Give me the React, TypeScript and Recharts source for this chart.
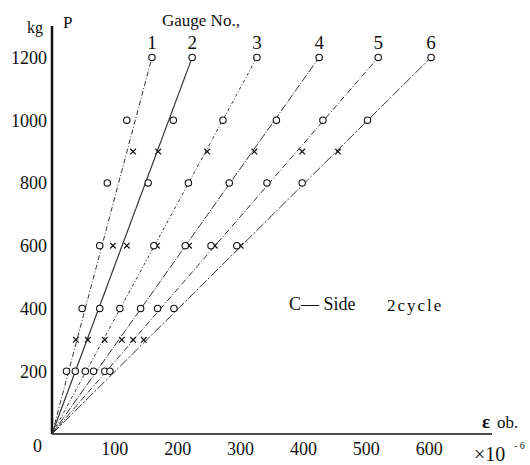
import React from "react";
import {
  ScatterChart,
  Scatter,
  XAxis,
  YAxis,
  ReferenceDot,
} from "recharts";

// loads (kg) where the circle and cross readings were taken
const circleLoads = [200, 400, 600, 800, 1000, 1200];
const crossLoads = [300, 600, 900];

// strain readings (x10^-6) per gauge; null = not visible
const circleStrains: (number | null)[][] = [
  [23, 48, 76, 88, 119, 159],
  [37, 76, null, 153, 193, 223],
  [53, 108, 162, 217, 272, 326],
  [66, 141, 212, 282, 357, 425],
  [84, 168, 253, 342, 431, 519],
  [92, 194, 294, 398, 502, 603],
];
const crossStrains: number[][] = [
  [38, 97, 129],
  [57, 119, 169],
  [84, 167, 247],
  [111, 218, 322],
  [129, 259, 398],
  [146, 300, 455],
];

const gaugeNames = ["1", "2", "3", "4", "5", "6"];
const lineDashes = ["5 2 1 2", "", "3 2 1 2", "8 1.5 1 1.5", "6 2 1 2", "10 2 2 2"];

const xTicks = [100, 200, 300, 400, 500, 600];
const yTicks = [0, 200, 400, 600, 800, 1000, 1200];

const FONT = "'Liberation Serif', 'DejaVu Serif', serif";
const INK = "#111";

const toPoints = (strains: (number | null)[], loads: number[]) =>
  strains
    .map((s, i) => (s === null ? null : { x: s, y: loads[i] }))
    .filter((p): p is { x: number; y: number } => p !== null);

const CircleMark = (props: any) => (
  <circle cx={props.cx} cy={props.cy} r={3.2} fill="#fff" stroke={INK} strokeWidth={1.1} />
);

const CrossMark = (props: any) => {
  const { cx, cy } = props;
  const s = 2.8;
  return (
    <g stroke={INK} strokeWidth={1.2}>
      <line x1={cx - s} y1={cy - s} x2={cx + s} y2={cy + s} />
      <line x1={cx - s} y1={cy + s} x2={cx + s} y2={cy - s} />
    </g>
  );
};

const YTick = (props: any) => {
  const { x, y, payload } = props;
  const zero = payload.value === 0;
  return (
    <text
      x={zero ? x - 5 : x}
      y={zero ? y + 12 : y}
      dy="0.355em"
      textAnchor="end"
      fontSize={18}
      fontFamily={FONT}
      fill={INK}
    >
      {payload.value}
    </text>
  );
};

export default function App() {
  return (
    <div style={{ position: "absolute", left: 0, top: 0, width: 530, height: 465, background: "#fff" }}>
      <ScatterChart
        width={530}
        height={465}
        margin={{ top: 26, right: 38, bottom: 0, left: 8 }}
      >
        <XAxis
          type="number"
          dataKey="x"
          domain={[0, 700]}
          ticks={xTicks}
          height={31}
          axisLine={{ stroke: INK, strokeWidth: 1.5 }}
          tickLine={false}
          tickSize={0}
          tickMargin={8}
          tick={{ fontSize: 18, fontFamily: FONT, fill: INK }}
          allowDataOverflow
        />
        <YAxis
          type="number"
          dataKey="y"
          domain={[0, 1300]}
          ticks={yTicks}
          width={44}
          axisLine={{ stroke: INK, strokeWidth: 2.5 }}
          tickLine={false}
          tickSize={0}
          tickMargin={5}
          tick={<YTick />}
          allowDataOverflow
        />
        {circleStrains.map((strains, g) => {
          const top = strains[strains.length - 1] as number;
          return (
            <Scatter
              key={`line-${g}`}
              data={[
                { x: 0, y: 0 },
                { x: top, y: circleLoads[circleLoads.length - 1] },
              ]}
              line={{ stroke: "#333", strokeWidth: g === 1 ? 1.2 : 1, strokeDasharray: lineDashes[g] }}
              shape={() => <g />}
              isAnimationActive={false}
            />
          );
        })}
        {crossStrains.map((strains, g) => (
          <Scatter
            key={`cross-${g}`}
            data={toPoints(strains, crossLoads)}
            shape={<CrossMark />}
            isAnimationActive={false}
          />
        ))}
        {circleStrains.map((strains, g) => (
          <Scatter
            key={`circle-${g}`}
            data={toPoints(strains, circleLoads)}
            shape={<CircleMark />}
            isAnimationActive={false}
          />
        ))}
        {circleStrains.map((strains, g) => (
          <ReferenceDot
            key={`name-${g}`}
            x={strains[strains.length - 1] as number}
            y={circleLoads[circleLoads.length - 1]}
            r={0}
            ifOverflow="visible"
            label={{
              value: gaugeNames[g],
              position: "top",
              offset: 8,
              fontSize: 19,
              fontFamily: FONT,
              fill: INK,
            }}
          />
        ))}
      </ScatterChart>

      {/* axis titles and notes */}
      <svg
        width={530}
        height={465}
        style={{ position: "absolute", left: 0, top: 0, pointerEvents: "none" }}
        fontFamily={FONT}
        fill={INK}
      >
        <text x={27} y={33} fontSize={16}>kg</text>
        <text x={63} y={28} fontSize={17}>P</text>
        <text x={162} y={26} fontSize={17}>Gauge No.,</text>
        <text x={289} y={310} fontSize={18}>C— Side</text>
        <text x={387} y={311} fontSize={17} letterSpacing={2}>2cycle</text>
        <text x={482} y={428} fontSize={19} fontWeight="bold">ε</text>
        <text x={497} y={428} fontSize={17}>ob.</text>
        <text x={474} y={461} fontSize={20}>×10</text>
        <text x={514} y={449} fontSize={10}>- 6</text>
      </svg>
    </div>
  );
}
